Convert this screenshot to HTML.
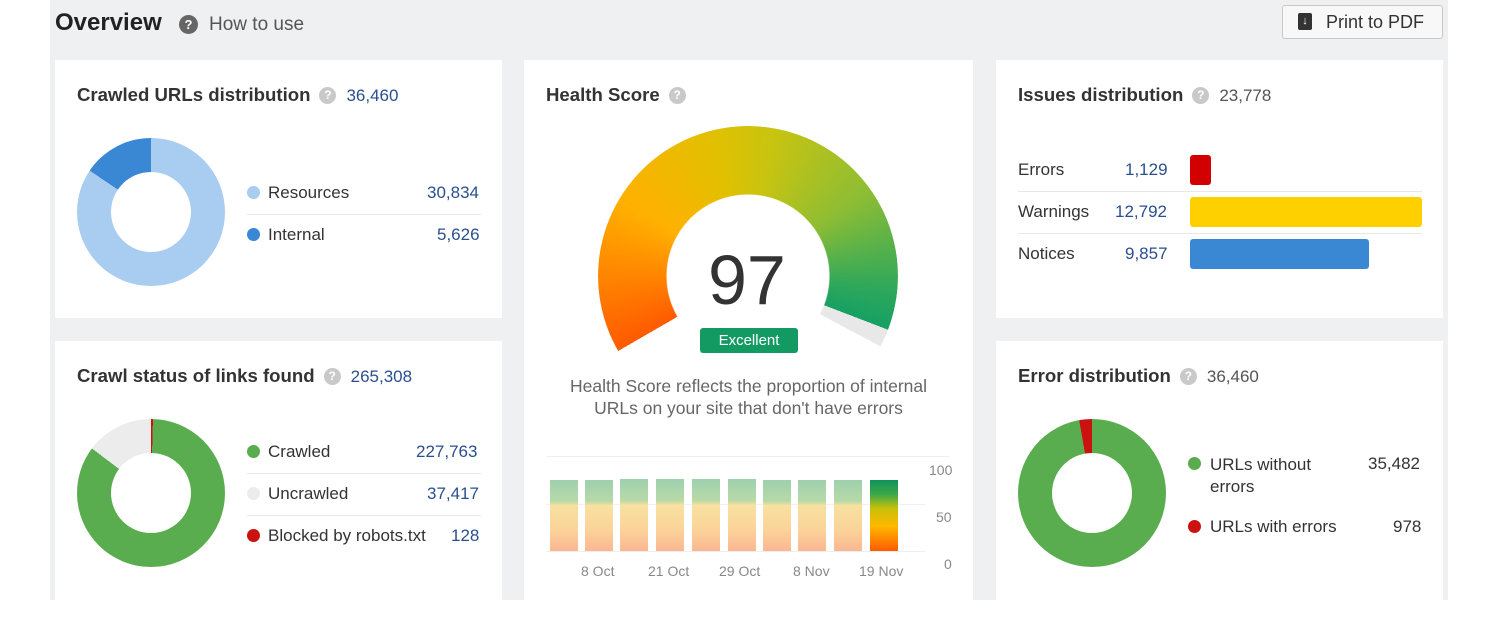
<!DOCTYPE html>
<html><head><meta charset="utf-8"><style>
*{box-sizing:border-box;margin:0;padding:0}
body{width:1500px;height:600px;background:#fff;font-family:"Liberation Sans",sans-serif;position:relative;overflow:hidden;color:#333}
.bg{position:absolute;left:50px;top:0;width:1398px;height:600px;background:#eff0f2}
.card{position:absolute;background:#fff}
.t{position:absolute;font-weight:bold;font-size:18.6px;color:#333;white-space:nowrap}
.q{display:inline-block;width:17px;height:17px;border-radius:50%;background:#c9c9c9;color:#fff;font-size:12px;text-align:center;line-height:17px;vertical-align:2px;margin:0 10px 0 9px;font-weight:bold}
.n{font-weight:normal;color:#2a4f8f;font-size:17px}
.g{font-weight:normal;color:#555;font-size:17px}
.abs{position:absolute;white-space:nowrap;font-size:17px}
.blue{color:#2a4f8f}
.dot{position:absolute;width:13px;height:13px;border-radius:50%}
.hl{position:absolute;height:1px;background:#e8e8e8}
.donut{position:absolute;border-radius:50%}
.hole{position:absolute;border-radius:50%;background:#fff}
</style></head><body>
<div class="bg"></div>
<div class="abs" style="left:55px;top:9px;font-size:24px;font-weight:bold;color:#222">Overview</div>
<div class="abs" style="left:179px;top:15px;width:19px;height:19px;border-radius:50%;background:#666;color:#fff;font-size:13px;text-align:center;line-height:19px;font-weight:bold">?</div>
<div class="abs" style="left:209px;top:14px;font-size:19px;color:#555">How to use</div>
<div class="abs" style="left:1282px;top:5px;width:161px;height:34px;border:1px solid #c8c8c8;border-radius:3px;background:#f8f8f8"></div>
<div class="abs" style="left:1298px;top:13px;width:14px;height:17px;background:#333;border-radius:2px;color:#fff;font-size:11px;text-align:center;line-height:17px">↓</div>
<div class="abs" style="left:1326px;top:12px;font-size:18px;color:#333">Print to PDF</div>

<!-- card 1 -->
<div class="card" style="left:55px;top:60px;width:447px;height:258px"></div>
<div class="t" style="left:77px;top:84px">Crawled URLs distribution<span class="q">?</span><span class="n">36,460</span></div>
<div class="donut" style="left:77px;top:138px;width:148px;height:148px;background:conic-gradient(#a8cdf0 0 304deg,#3a87d4 304deg 360deg)"></div>
<div class="hole" style="left:111px;top:172px;width:80px;height:80px"></div>
<div class="dot" style="left:247px;top:186px;background:#a8cdf0"></div>
<div class="abs" style="left:268px;top:183px">Resources</div>
<div class="abs blue" style="left:427px;top:183px">30,834</div>
<div class="hl" style="left:247px;top:214px;width:234px"></div>
<div class="dot" style="left:247px;top:228px;background:#3a87d4"></div>
<div class="abs" style="left:268px;top:225px">Internal</div>
<div class="abs blue" style="left:437px;top:225px">5,626</div>

<!-- card 2 -->
<div class="card" style="left:55px;top:341px;width:447px;height:270px"></div>
<div class="t" style="left:77px;top:365px">Crawl status of links found<span class="q">?</span><span class="n">265,308</span></div>
<div class="donut" style="left:77px;top:419px;width:148px;height:148px;background:conic-gradient(#cc1111 0 1.5deg,#5aad4e 1.5deg 307deg,#ececec 307deg 360deg)"></div>
<div class="hole" style="left:111px;top:453px;width:80px;height:80px"></div>
<div class="dot" style="left:247px;top:445px;background:#5aad4e"></div>
<div class="abs" style="left:268px;top:442px">Crawled</div>
<div class="abs blue" style="left:416px;top:442px">227,763</div>
<div class="hl" style="left:247px;top:473px;width:234px"></div>
<div class="dot" style="left:247px;top:487px;background:#ececec"></div>
<div class="abs" style="left:268px;top:484px">Uncrawled</div>
<div class="abs blue" style="left:427px;top:484px">37,417</div>
<div class="hl" style="left:247px;top:515px;width:234px"></div>
<div class="dot" style="left:247px;top:529px;background:#cc1111"></div>
<div class="abs" style="left:268px;top:526px">Blocked by robots.txt</div>
<div class="abs blue" style="left:451px;top:526px">128</div>

<!-- middle -->
<div class="card" style="left:524px;top:60px;width:449px;height:560px"></div>
<div class="t" style="left:546px;top:84px">Health Score<span class="q">?</span></div>
<div class="abs" style="left:598px;top:126px;width:300px;height:300px;border-radius:50%;background:conic-gradient(from 240deg,#ff5a00 0deg,#ffb000 60deg,#e2c000 105deg,#c8c410 130deg,#8dbd34 175deg,#2fa85a 215deg,#16a064 231deg,#e8e8e8 231deg 238deg,transparent 238deg);-webkit-mask:radial-gradient(circle,transparent 81px,#000 82px);mask:radial-gradient(circle,transparent 81px,#000 82px)"></div>
<div class="abs" style="left:708px;top:240px;font-size:70px;color:#333">97</div>
<div class="abs" style="left:700px;top:328px;width:98px;height:25px;background:#139a63;border-radius:3px;color:#fff;font-size:15px;text-align:center;line-height:25px">Excellent</div>
<div class="abs" style="left:524px;top:375px;width:449px;text-align:center;font-size:17.5px;color:#666;line-height:22px;white-space:normal">Health Score reflects the proportion of internal<br>URLs on your site that don't have errors</div>
<div class="hl" style="left:546px;top:456px;width:404px;background:#eee"></div>
<div class="hl" style="left:546px;top:504px;width:380px;background:#f0f0f0"></div>
<div class="hl" style="left:546px;top:551px;width:380px;background:#eee"></div>
<div style="position:absolute;left:550px;top:480px">
<style>.b{position:absolute;top:0;width:28px;height:71px;background:linear-gradient(#9ed0ad 0%,#b8d9a8 30%,#f7e1a0 36%,#fbd39a 70%,#fbb792 100%)}</style>
<div class="b" style="left:0"></div><div class="b" style="left:35px"></div><div class="b" style="left:70px;top:-1px;height:72px"></div><div class="b" style="left:106px;top:-1px;height:72px"></div><div class="b" style="left:142px;top:-1px;height:72px"></div><div class="b" style="left:178px;top:-1px;height:72px"></div><div class="b" style="left:213px"></div><div class="b" style="left:248px"></div><div class="b" style="left:284px"></div>
<div class="b" style="left:320px;background:linear-gradient(#11925a 0%,#3aa84a 20%,#c8c00a 40%,#ffb800 65%,#ff5a00 100%)"></div>
</div>
<div class="abs" style="left:929px;top:462px;font-size:14px;color:#888">100</div>
<div class="abs" style="left:936px;top:509px;font-size:14px;color:#888">50</div>
<div class="abs" style="left:944px;top:556px;font-size:14px;color:#888">0</div>
<div class="abs" style="left:581px;top:563px;font-size:14px;color:#888">8 Oct</div>
<div class="abs" style="left:648px;top:563px;font-size:14px;color:#888">21 Oct</div>
<div class="abs" style="left:719px;top:563px;font-size:14px;color:#888">29 Oct</div>
<div class="abs" style="left:793px;top:563px;font-size:14px;color:#888">8 Nov</div>
<div class="abs" style="left:859px;top:563px;font-size:14px;color:#888">19 Nov</div>

<!-- right top -->
<div class="card" style="left:996px;top:60px;width:447px;height:258px"></div>
<div class="t" style="left:1018px;top:84px">Issues distribution<span class="q">?</span><span class="g">23,778</span></div>
<div class="abs" style="left:1018px;top:160px">Errors</div>
<div class="abs blue" style="left:1125px;top:160px">1,129</div>
<div class="abs" style="left:1190px;top:155px;width:21px;height:30px;background:#d20000;border-radius:3px"></div>
<div class="hl" style="left:1018px;top:191px;width:404px"></div>
<div class="abs" style="left:1018px;top:202px">Warnings</div>
<div class="abs blue" style="left:1115px;top:202px">12,792</div>
<div class="abs" style="left:1190px;top:197px;width:232px;height:30px;background:#ffd000;border-radius:3px"></div>
<div class="hl" style="left:1018px;top:233px;width:404px"></div>
<div class="abs" style="left:1018px;top:244px">Notices</div>
<div class="abs blue" style="left:1125px;top:244px">9,857</div>
<div class="abs" style="left:1190px;top:239px;width:179px;height:30px;background:#3a87d4;border-radius:3px"></div>

<!-- right bottom -->
<div class="card" style="left:996px;top:341px;width:447px;height:270px"></div>
<div class="t" style="left:1018px;top:365px">Error distribution<span class="q">?</span><span class="g">36,460</span></div>
<div class="donut" style="left:1018px;top:419px;width:148px;height:148px;background:conic-gradient(#5aad4e 0 350deg,#cc1111 350deg 360deg)"></div>
<div class="hole" style="left:1052px;top:453px;width:80px;height:80px"></div>
<div class="dot" style="left:1188px;top:457px;background:#5aad4e"></div>
<div class="abs" style="left:1210px;top:454px;line-height:22px">URLs without<br>errors</div>
<div class="abs" style="left:1368px;top:454px">35,482</div>
<div class="dot" style="left:1188px;top:520px;background:#cc1111"></div>
<div class="abs" style="left:1210px;top:517px">URLs with errors</div>
<div class="abs" style="left:1393px;top:517px">978</div>
</body></html>
